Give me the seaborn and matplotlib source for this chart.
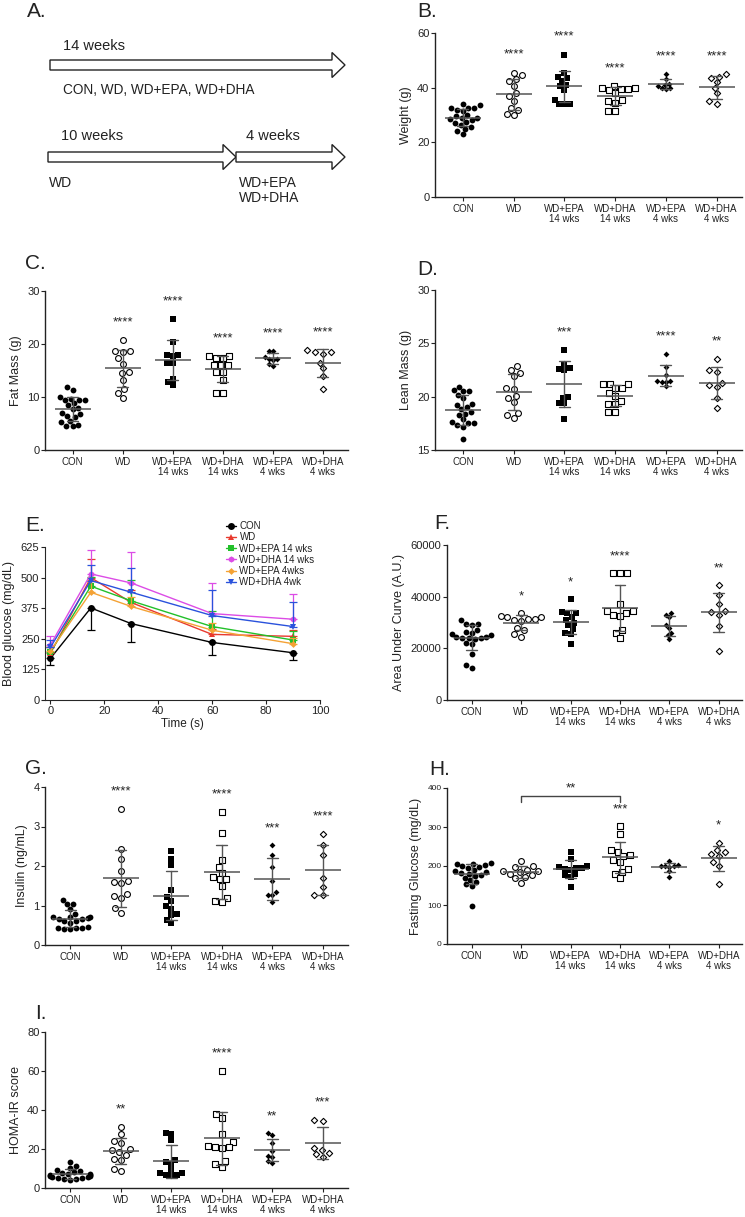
import numpy as np
import pandas as pd
import matplotlib
matplotlib.use("Agg")
import matplotlib.pyplot as plt
from matplotlib.patches import FancyArrow
import seaborn as sns

sns.set_style("ticks")
plt.rcParams['font.family'] = ['Liberation Sans', 'DejaVu Sans']
plt.rcParams['text.color'] = '#222222'
plt.rcParams['axes.labelcolor'] = '#222222'
plt.rcParams['xtick.color'] = '#222222'
plt.rcParams['ytick.color'] = '#222222'

# groups (x categories of the dot plots)
groups = ["CON", "WD", "WD+EPA\n14 wks", "WD+DHA\n14 wks", "WD+EPA\n4 wks", "WD+DHA\n4 wks"]

# B. body weight (g)
weight = [
    [34, 33.5, 32.5, 32.5, 32.5, 32, 31.5, 30, 29.5, 29, 29, 28.5, 28, 27.5, 27, 26.5, 25.5, 25, 24, 23],
    [45.5, 44.5, 43, 42.5, 40.5, 38, 37, 35, 32.5, 32, 30.5, 30],
    [52, 45.5, 44, 43.5, 42.5, 41, 40.5, 39, 35.5, 34, 34, 34],
    [40.5, 40, 40, 39.5, 39.5, 39, 38, 35.5, 35, 34.5, 31.5, 31.5],
    [45, 43, 41.5, 41, 40, 40, 39.5, 40.5],
    [45, 44, 43.5, 42, 40, 38, 35, 34],
]
weight_stars = ["", "****", "****", "****", "****", "****"]

# C. fat mass (g)
fat = [
    [11.8, 11.4, 10, 9.7, 9.5, 9.4, 9.4, 8.8, 8.5, 8, 7.7, 7, 6.8, 6.5, 6.2, 5.5, 5.2, 4.8, 4.6, 4.5],
    [20.8, 18.7, 18.7, 18.5, 17.3, 16.3, 14.8, 14.5, 13.2, 11.5, 10.8, 9.8],
    [24.8, 20.3, 18, 18, 17.8, 16.5, 16.5, 13.4, 12.9, 12.2],
    [17.8, 17.8, 17.3, 17.3, 16, 16, 16, 14.8, 14.8, 13.2, 10.8, 10.8],
    [18.7, 18.7, 17.5, 17.2, 17.2, 17, 16.3, 15.9],
    [18.9, 18.5, 18.4, 18.2, 16.5, 15.5, 13.9, 11.6],
]
fat_stars = ["", "****", "****", "****", "****", "****"]

# D. lean mass (g)
lean = [
    [20.9, 20.6, 20.5, 20.5, 20.2, 19.9, 19.3, 19.2, 19.0, 18.8, 18.6, 18.4, 18.3, 17.9, 17.6, 17.5, 17.5, 17.3, 17.2, 16.0],
    [22.9, 22.5, 22.2, 21.9, 20.8, 20.7, 20.1, 19.9, 19.5, 18.5, 18.3, 18.0],
    [24.4, 23.1, 22.7, 22.6, 22.5, 20.0, 19.9, 19.4, 19.4, 17.9],
    [21.2, 21.2, 21.2, 20.8, 20.8, 20.3, 20.1, 19.6, 19.3, 19.3, 18.6, 18.6],
    [24.0, 22.8, 22.0, 21.5, 21.5, 21.4, 21.4, 21.0],
    [23.5, 22.5, 22.3, 21.3, 21.1, 20.9, 19.9, 18.9],
]
lean_stars = ["", "", "***", "", "****", "**"]

# E. glucose tolerance test (mg/dL)
times = [0, 15, 30, 60, 90]
gtt_labels = ["CON", "WD", "WD+EPA 14 wks", "WD+DHA 14 wks", "WD+EPA 4wks", "WD+DHA 4wk"]
gtt_mean = [
    [170, 376, 312, 235, 193],
    [190, 500, 398, 268, 260],
    [195, 465, 405, 300, 245],
    [225, 515, 478, 353, 330],
    [200, 440, 382, 285, 230],
    [215, 488, 440, 345, 300],
]
gtt_sd = [
    [25, 91, 77, 52, 30],
    [25, 75, 50, 22, 25],
    [20, 38, 87, 63, 36],
    [36, 99, 125, 123, 105],
    [15, 45, 40, 30, 25],
    [32, 65, 101, 103, 101],
]

# F. area under curve (A.U.)
auc = [
    [31000, 29500, 29500, 29000, 27000, 26500, 26000, 25500, 25000, 24500, 24500, 24000, 24000, 24000,
     23500, 21500, 22000, 18000, 13500, 12500],
    [33500, 32500, 32000, 32000, 31500, 31500, 31000, 30500, 28000, 27000, 25500, 24500],
    [39000, 34000, 33500, 33500, 32000, 31000, 30000, 29000, 27500, 26000, 25500, 21500],
    [49000, 49000, 49000, 37000, 34500, 34500, 33500, 33000, 32500, 27000, 26000, 24000],
    [33500, 33000, 32000, 29000, 28000, 26000, 25000, 23500],
    [44500, 40500, 37000, 34500, 34000, 33000, 28500, 19000],
]
auc_stars = ["", "*", "*", "****", "", "**"]

# G. insulin (ng/mL)
insulin = [
    [1.13, 1.05, 1.03, 0.9, 0.78, 0.72, 0.7, 0.7, 0.68, 0.66, 0.65, 0.62, 0.6, 0.55, 0.45, 0.44, 0.43, 0.42, 0.41, 0.4],
    [3.45, 2.43, 2.17, 1.87, 1.63, 1.6, 1.57, 1.3, 1.25, 1.2, 0.94, 0.82],
    [2.38, 2.18, 2.03, 1.4, 1.22, 1.12, 0.98, 0.92, 0.78, 0.76, 0.64, 0.55],
    [3.37, 2.84, 2.15, 1.97, 1.82, 1.72, 1.68, 1.66, 1.5, 1.18, 1.12, 1.08],
    [2.52, 2.27, 1.97, 1.62, 1.33, 1.27, 1.26, 1.1],
    [2.82, 2.52, 2.29, 1.7, 1.47, 1.26, 1.26],
]
insulin_stars = ["", "****", "", "****", "***", "****"]

# H. fasting glucose (mg/dL)
fasting = [
    [208, 205, 205, 203, 200, 198, 195, 190, 188, 185, 182, 180, 178, 175, 170, 165, 160, 155, 150, 97],
    [213, 200, 198, 190, 188, 186, 185, 180, 176, 172, 168, 157],
    [235, 218, 200, 198, 196, 195, 193, 190, 180, 178, 172, 145],
    [302, 282, 240, 237, 228, 225, 215, 210, 192, 185, 180, 168],
    [213, 202, 200, 200, 200, 198, 187, 172],
    [260, 242, 235, 232, 225, 210, 200, 155],
]
fasting_stars = ["", "", "", "***", "", "*"]

# I. HOMA-IR
homa = [
    [13.5, 11.5, 10.5, 9, 8.5, 8, 7.5, 7.2, 7, 6.8, 6.5, 6.2, 6, 5.8, 5.5, 5.2, 5, 4.8, 4.5, 4.2],
    [31.5, 27.5, 24, 23, 19.5, 20, 18.5, 17, 15, 14.5, 9.5, 8.5],
    [28, 27.5, 24.5, 14.5, 13.5, 12.5, 9, 7.5, 7.5, 6.5, 6.5, 6],
    [60, 38, 36, 27.5, 23.5, 21.5, 21, 21, 20.5, 14, 12.5, 11],
    [28, 27, 23, 19, 16.5, 16, 14, 13],
    [35, 34.5, 20.5, 19.5, 18, 17.5, 16],
]
homa_stars = ["", "**", "", "****", "**", "***"]

# ---------------------------------------------------------------- layout
W, H = 745, 1217
fig = plt.figure(figsize=(W / 100, H / 100), dpi=100)


def add_ax(l, t, r, b):
    return fig.add_axes([l / W, 1 - b / H, (r - l) / W, (b - t) / H])


markers = ["o", "o", "s", "s", "D", "D"]
filled = [True, False, True, False, True, False]
msizes = [4.2, 4.2, 4.0, 4.0, 3.0, 3.2]
SPREAD = 1.45   # prism-style scatter is wider than a tight beeswarm
swarms = []     # (collection, category index), widened after the first draw


def dot_panel(ax, values, ylim, yticks, ylabel, stars, ytick_fs=8, xlim=(-0.55, 5.5)):
    df = pd.DataFrame({"group": np.repeat(groups, [len(v) for v in values]),
                       "value": np.concatenate(values)})
    for i, (g, m, f, s) in enumerate(zip(groups, markers, filled, msizes)):
        sub = df[df.group == g]
        sns.swarmplot(data=sub, x="group", y="value", order=groups, marker=m, size=s,
                      color="black" if f else "white", edgecolor="black",
                      linewidth=0 if f else 0.8, ax=ax, zorder=2)
        swarms.append((ax.collections[-1], i))
    sns.pointplot(data=df, x="group", y="value", order=groups, errorbar="sd",
                  linestyle="none", marker="_", markersize=26, markeredgewidth=1.1,
                  color="#555555", capsize=0.22, err_kws={"linewidth": 1.0}, ax=ax)
    rng = ylim[1] - ylim[0]
    for i, s in enumerate(stars):
        if s:
            ax.text(i, max(values[i]) + 0.11 * rng, s, ha="center", va="center", fontsize=9.5)
    ax.set_xlim(*xlim)
    ax.set_ylim(*ylim)
    ax.set_yticks(yticks)
    ax.set_xlabel("")
    ax.set_ylabel(ylabel, fontsize=9)
    ax.tick_params(axis="x", labelsize=7, length=3, width=0.8, pad=2)
    ax.tick_params(axis="y", labelsize=ytick_fs, length=3, width=0.8, pad=1)
    for sp in ["left", "bottom"]:
        ax.spines[sp].set_linewidth(1.0)
        ax.spines[sp].set_color("#222222")
    sns.despine(ax=ax)
    for lab in ax.get_xticklabels():
        lab.set_linespacing(1.0)


# A. schematic
axA = add_ax(0, 0, 372, 230)
axA.set_xlim(0, 372)
axA.set_ylim(230, 0)
axA.axis("off")
for x0, x1, y in [(50, 345, 65), (48, 236, 157), (236, 345, 157)]:
    axA.add_patch(FancyArrow(x0, y, x1 - x0, 0, width=10, head_width=25, head_length=13,
                             length_includes_head=True, fc="white", ec="#222222", lw=1.0))
axA.text(63, 46, "14 weeks", fontsize=10.5, va="center")
axA.text(63, 90, "CON, WD, WD+EPA, WD+DHA", fontsize=9.8, va="center")
axA.text(61, 136, "10 weeks", fontsize=10.5, va="center")
axA.text(246, 136, "4 weeks", fontsize=10.5, va="center")
axA.text(49, 183, "WD", fontsize=10, va="center")
axA.text(239, 183, "WD+EPA", fontsize=10, va="center")
axA.text(239, 198, "WD+DHA", fontsize=10, va="center")

# B - D
axB = add_ax(435, 33, 742, 197)
dot_panel(axB, weight, (0, 60), [0, 20, 40, 60], "Weight (g)", weight_stars)
axC = add_ax(45, 291, 348, 450)
dot_panel(axC, fat, (0, 30), [0, 10, 20, 30], "Fat Mass (g)", fat_stars)
axD = add_ax(435, 290, 742, 450)
dot_panel(axD, lean, (15, 30), [15, 20, 25, 30], "Lean Mass (g)", lean_stars)

# E. GTT lines
axE = add_ax(45, 547, 320, 700)
gtt_colors = ["black", "#e83a2e", "#22c02a", "#dc4ce6", "#f4a235", "#2a52dc"]
gtt_markers = ["o", "^", "s", "h", "D", "v"]
gtt_msize = [5, 4, 4, 4.5, 3.5, 4]
err_down = [True, False, False, False, False, False]
for mean, sd, lab, c, m, ms, dn in zip(gtt_mean, gtt_sd, gtt_labels, gtt_colors, gtt_markers,
                                       gtt_msize, err_down):
    sns.lineplot(x=times, y=mean, color=c, marker=m, markersize=ms, markeredgewidth=0,
                 linewidth=1.0, label=lab, ax=axE)
    sd = np.array(sd)
    yerr = [sd, np.zeros_like(sd)] if dn else [np.zeros_like(sd), sd]
    axE.errorbar(times, mean, yerr=yerr, fmt="none", ecolor=c, elinewidth=0.9, capsize=3,
                 capthick=0.9)
axE.set_xlim(-2, 100)
axE.set_ylim(0, 625)
axE.set_xticks([0, 20, 40, 60, 80, 100])
axE.set_yticks([0, 125, 250, 375, 500, 625])
axE.set_xlabel("Time (s)", fontsize=8.5, labelpad=2)
axE.set_ylabel("Blood glucose (mg/dL)", fontsize=9)
axE.tick_params(axis="both", labelsize=8, length=3, width=0.8, pad=1)
sns.despine(ax=axE)
axE.legend(loc="upper left", bbox_to_anchor=(0.64, 1.2), frameon=False, fontsize=7,
           handlelength=1.0, handletextpad=0.4, labelspacing=0.12, borderpad=0)

# F - I
axF = add_ax(447, 545, 742, 700)
dot_panel(axF, auc, (0, 60000), [0, 20000, 40000, 60000], "Area Under Curve (A.U.)", auc_stars,
          xlim=(-0.5, 5.47))
axG = add_ax(45, 787, 348, 945)
dot_panel(axG, insulin, (0, 4), [0, 1, 2, 3, 4], "Insulin (ng/mL)", insulin_stars, xlim=(-0.5, 5.5))
axH = add_ax(447, 788, 742, 944)
dot_panel(axH, fasting, (0, 400), [0, 100, 200, 300, 400], "Fasting Glucose (mg/dL)", fasting_stars,
          ytick_fs=6, xlim=(-0.5, 5.47))
axH.plot([1, 1, 3, 3], [363, 380, 380, 363], color="#444444", lw=1.0)
axH.text(2, 400, "**", ha="center", va="center", fontsize=9.5)
axI = add_ax(45, 1032, 348, 1188)
dot_panel(axI, homa, (0, 80), [0, 20, 40, 60, 80], "HOMA-IR score", homa_stars, xlim=(-0.5, 5.5))

# panel letters
for lab, x, y in [("A.", 27, 2), ("B.", 417, 2), ("C.", 25, 254), ("D.", 417, 260),
                  ("E.", 25, 516), ("F.", 434, 514), ("G.", 25, 759), ("H.", 429, 760),
                  ("I.", 35, 1004)]:
    fig.text(x / W, 1 - y / H, lab, fontsize=15, va="top", ha="left")

# let seaborn lay out the swarms once, then widen them like the prism scatter
fig.canvas.draw()
for coll, i in swarms:
    if "draw" in coll.__dict__:
        del coll.draw
    off = np.asarray(coll.get_offsets()).copy()
    off[:, 0] = i + (off[:, 0] - i) * SPREAD
    coll.set_offsets(off)

fig.savefig("out.png", dpi=100)
